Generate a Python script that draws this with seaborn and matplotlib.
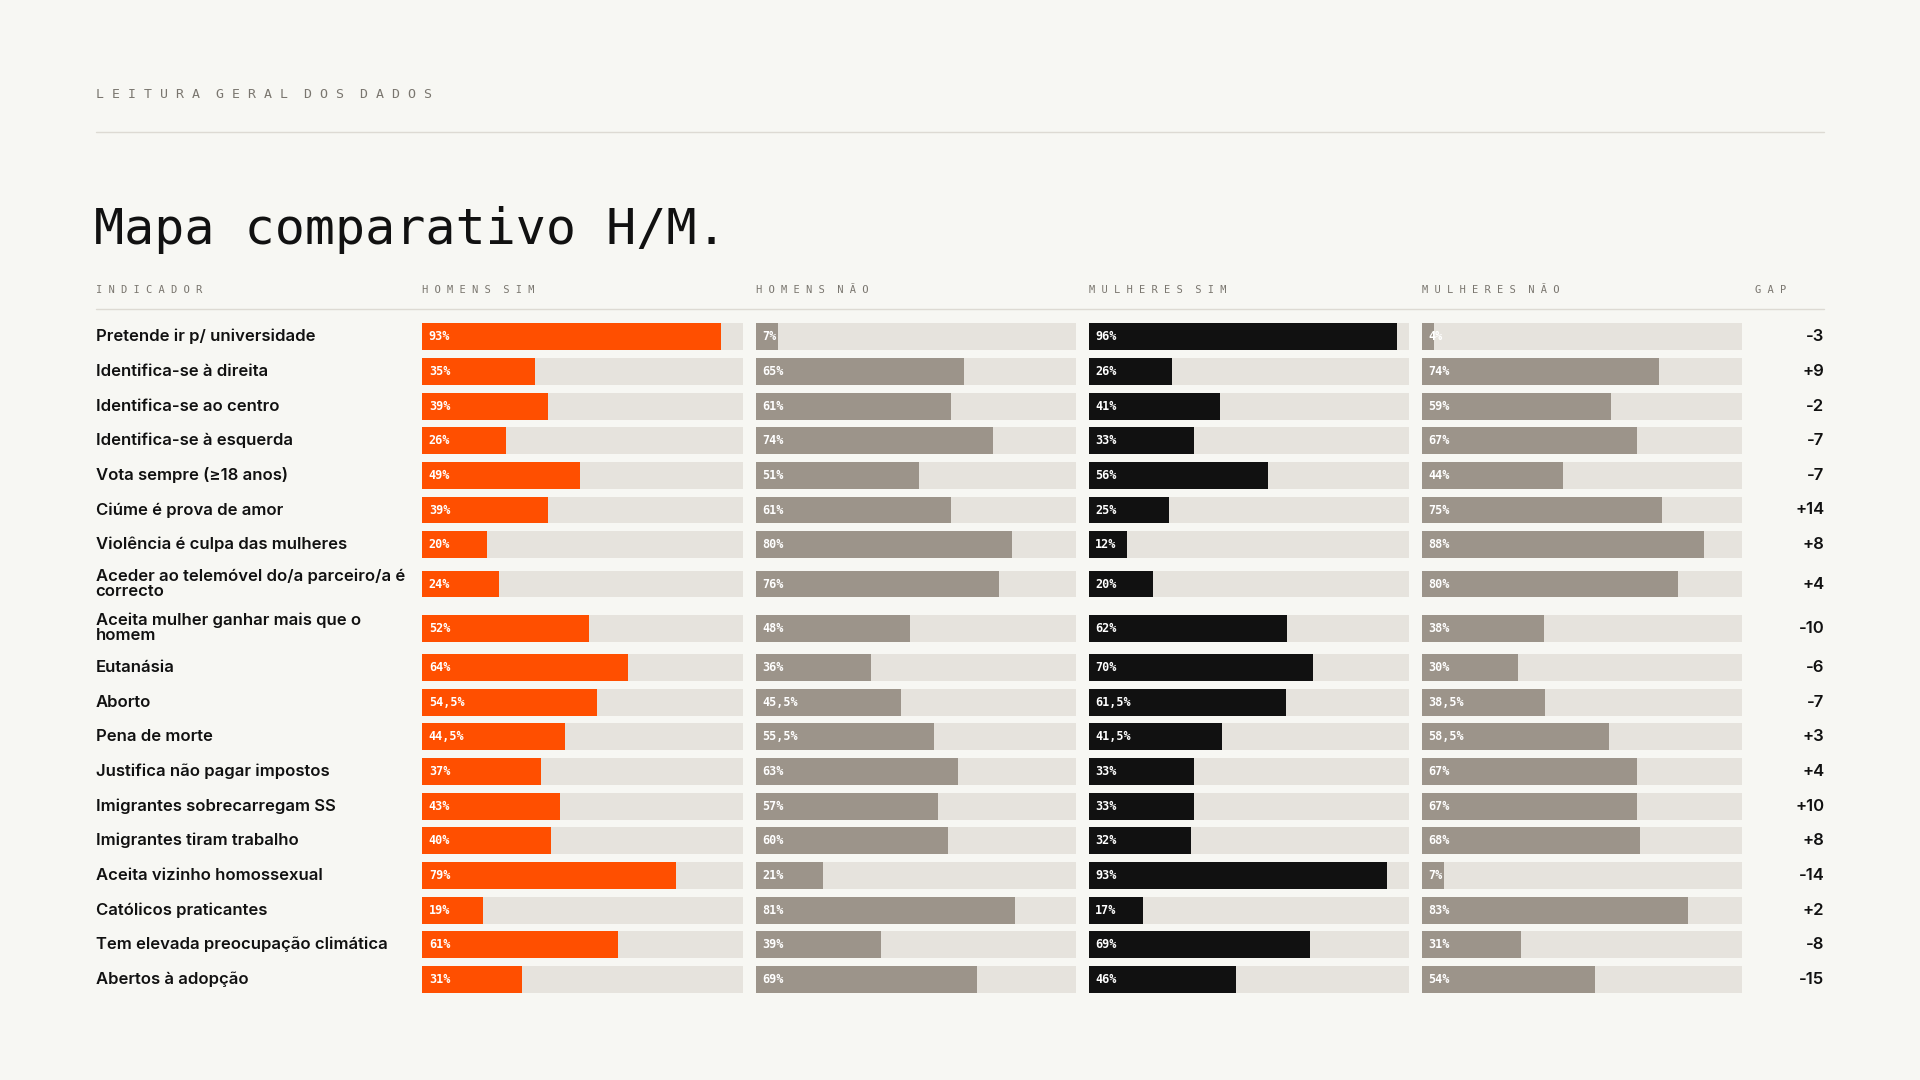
import matplotlib
matplotlib.use("Agg")
import matplotlib.pyplot as plt
import seaborn as sns
import numpy as np

indicators = ["Pretende ir p/ universidade", "Identifica-se à direita", "Identifica-se ao centro",
              "Identifica-se à esquerda", "Vota sempre (≥18 anos)", "Ciúme é prova de amor",
              "Violência é culpa das mulheres", "Aceder ao telemóvel do/a parceiro/a é\ncorrecto",
              "Aceita mulher ganhar mais que o\nhomem", "Eutanásia", "Aborto", "Pena de morte",
              "Justifica não pagar impostos", "Imigrantes sobrecarregam SS", "Imigrantes tiram trabalho",
              "Aceita vizinho homossexual", "Católicos praticantes", "Tem elevada preocupação climática",
              "Abertos à adopção"]
homens_sim = [93, 35, 39, 26, 49, 39, 20, 24, 52, 64, 54.5, 44.5, 37, 43, 40, 79, 19, 61, 31]
homens_nao = [7, 65, 61, 74, 51, 61, 80, 76, 48, 36, 45.5, 55.5, 63, 57, 60, 21, 81, 39, 69]
mulheres_sim = [96, 26, 41, 33, 56, 25, 12, 20, 62, 70, 61.5, 41.5, 33, 33, 32, 93, 17, 69, 46]
mulheres_nao = [4, 74, 59, 67, 44, 75, 88, 80, 38, 30, 38.5, 58.5, 67, 67, 68, 7, 83, 31, 54]
gap = ["-3", "+9", "-2", "-7", "-7", "+14", "+8", "+4", "-10", "-6", "-7", "+3", "+4", "+10",
       "+8", "-14", "+2", "-8", "-15"]
headers = ["HOMENS SIM", "HOMENS NÃO", "MULHERES SIM", "MULHERES NÃO"]
colors = ["#FF4F00", "#9C948A", "#111111", "#9C948A"]

BG = "#F7F7F3"; TRACK = "#E6E3DD"; INK = "#111111"; MUTED = "#7A766F"
W, H = 1568.0, 882.0
sns.set_theme(style="white")
plt.rcParams['font.family'] = ['Inter', 'DejaVu Sans']
fig = plt.figure(figsize=(19.2, 10.8), dpi=100, facecolor=BG)

def fx(x): return x / W
def fy(y): return 1 - y / H

def spaced(s):
    return "  ".join(" ".join(w) for w in s.split(" "))

heights = [36.0 if "\n" in s else 28.3 for s in indicators]
centers = [275.0]
c = 275.0 + heights[0] / 2
for h in heights[1:]:
    centers.append(c + h / 2)
    c += h
ytop, ybot = 262.0, 812.0
minstep = min(np.diff(centers))
bw = 22.0 / minstep

fig.text(fx(78), fy(77), spaced("LEITURA GERAL DOS DADOS"), family="DejaVu Sans Mono",
         fontsize=9.5, color=MUTED, va="center")
fig.add_artist(plt.Line2D([fx(78), fx(1490)], [fy(108), fy(108)], color="#DDDAD3", lw=1))
fig.text(fx(77), fy(188), "Mapa comparativo H/M.", family="DejaVu Sans Mono", fontsize=36,
         color=INK, va="center")
fig.text(fx(78), fy(237), spaced("INDICADOR"), family="DejaVu Sans Mono", fontsize=7.5, color=MUTED, va="center")
fig.text(fx(1433), fy(237), spaced("GAP"), family="DejaVu Sans Mono", fontsize=7.5, color=MUTED, va="center")
fig.add_artist(plt.Line2D([fx(78), fx(1490)], [fy(252), fy(252)], color="#DDDAD3", lw=1))

for lab, yc, g in zip(indicators, centers, gap):
    fig.text(fx(78), fy(yc), lab, fontsize=12, fontweight="semibold", color=INK, va="center",
             linespacing=1.0)
    fig.text(fx(1490), fy(yc), g, fontsize=12, fontweight="semibold", color=INK, va="center", ha="right")

series = [homens_sim, homens_nao, mulheres_sim, mulheres_nao]
for k, (vals, col, hd) in enumerate(zip(series, colors, headers)):
    x0 = 345 + k * 272
    fig.text(fx(x0), fy(237), spaced(hd), family="DejaVu Sans Mono", fontsize=7.5, color=MUTED, va="center")
    ax = fig.add_axes([fx(x0), fy(ybot), 262 / W, (ybot - ytop) / H])
    ax.set_facecolor(BG)
    sns.barplot(x=[100] * len(vals), y=centers, orient="h", native_scale=True, color=TRACK,
                width=bw, ax=ax, saturation=1, linewidth=0)
    sns.barplot(x=vals, y=centers, orient="h", native_scale=True, color=col,
                width=bw, ax=ax, saturation=1, linewidth=0)
    for v, yc in zip(vals, centers):
        s = (f"{v:g}".replace(".", ",")) + "%"
        ax.text(2, yc, s, family="DejaVu Sans Mono", fontsize=8.5, fontweight="bold",
                color="white", va="center", ha="left")
    ax.set_xlim(0, 100)
    ax.set_ylim(ybot, ytop)
    ax.axis("off")

fig.savefig("out.png", dpi=100, facecolor=BG)
